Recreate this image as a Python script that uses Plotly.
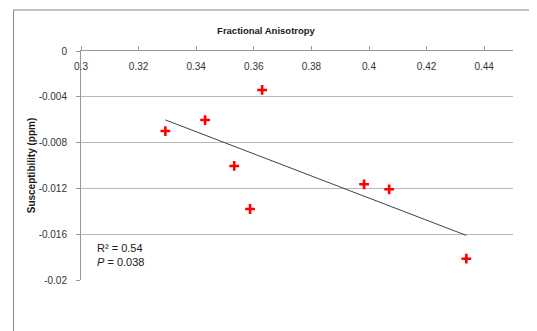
import numpy as np
import plotly.graph_objects as go

# Data
fa = [0.3293, 0.3431, 0.3629, 0.3532, 0.3587, 0.3983, 0.4070, 0.4338]
susc = [-0.00699, -0.00603, -0.0034, -0.01004, -0.0138, -0.01164, -0.01208, -0.01814]
x_ticks = [0.3, 0.32, 0.34, 0.36, 0.38, 0.4, 0.42, 0.44]
x_tick_labels = ["0.3", "0.32", "0.34", "0.36", "0.38", "0.4", "0.42", "0.44"]
y_ticks = [0, -0.004, -0.008, -0.012, -0.016, -0.02]
y_tick_labels = ["0", "-0.004", "-0.008", "-0.012", "-0.016", "-0.02"]
stats_text = "R² = 0.54<br><i>P</i> = 0.038"

# Linear trendline spanning the data range
slope, intercept = np.polyfit(fa, susc, 1)
tx = [min(fa), max(fa)]
ty = [slope * v + intercept for v in tx]

tick_font = dict(family="Liberation Sans", size=10, color="#333333")

# page body has an 8px margin, so the figure is sized/offset to compensate
W, H = 529, 323
ML, MR, MT, MB = 72.5, 24, 43, 51
PW, PH = W - ML - MR, H - MT - MB

fig = go.Figure()
fig.add_trace(go.Scatter(x=tx, y=ty, mode="lines",
                         line=dict(color="#404040", width=1), hoverinfo="skip",
                         showlegend=False))
fig.add_trace(go.Scatter(x=fa, y=susc, mode="markers",
                         marker=dict(symbol="cross-thin", size=7, color="#ff0000",
                                     line=dict(color="#ff0000", width=2.6)),
                         showlegend=False))

fig.update_layout(
    width=W, height=H,
    margin=dict(l=ML, r=MR, t=MT, b=MB),
    paper_bgcolor="white", plot_bgcolor="white",
    title=dict(text="<b>Fractional Anisotropy</b>", x=258 / W, xanchor="center",
               y=1 - 23 / H, yanchor="middle",
               font=dict(family="Liberation Sans", size=9.5, color="#1a1a1a")),
    xaxis=dict(range=[0.3, 0.45], side="top", tickvals=x_ticks, ticktext=x_tick_labels,
               ticks="outside", ticklen=4, tickcolor="#999999",
               ticklabelstandoff=-28, tickfont=tick_font, automargin=False,
               showline=True, linecolor="#999999", linewidth=1,
               showgrid=False, zeroline=False),
    yaxis=dict(range=[-0.02, 0], tickvals=y_ticks, ticktext=y_tick_labels,
               ticks="outside", ticklen=4, tickcolor="#999999", tickfont=tick_font,
               ticklabelstandoff=7, automargin=False,
               showline=True, linecolor="#999999", linewidth=1,
               showgrid=True, gridcolor="#b8b8b8", gridwidth=1, zeroline=False,
               title=dict(text="<b>Susceptibility (ppm)</b>", standoff=1,
                          font=dict(family="Liberation Sans", size=10, color="#1a1a1a"))),
)

fig.add_annotation(x=0.305, y=-0.0165, xref="x", yref="y", text=stats_text,
                   showarrow=False, xanchor="left", yanchor="top", align="left",
                   font=dict(family="Liberation Sans", size=11, color="#202020"))

fig.add_shape(type="rect", xref="paper", yref="paper",
              x0=-(ML - 5) / PW, x1=(524 - ML) / PW,
              y0=-0.4, y1=(PH + MT - 2) / PH,
              line=dict(color="#888888", width=1), fillcolor="rgba(0,0,0,0)",
              layer="below")

fig.write_html("out.html")
